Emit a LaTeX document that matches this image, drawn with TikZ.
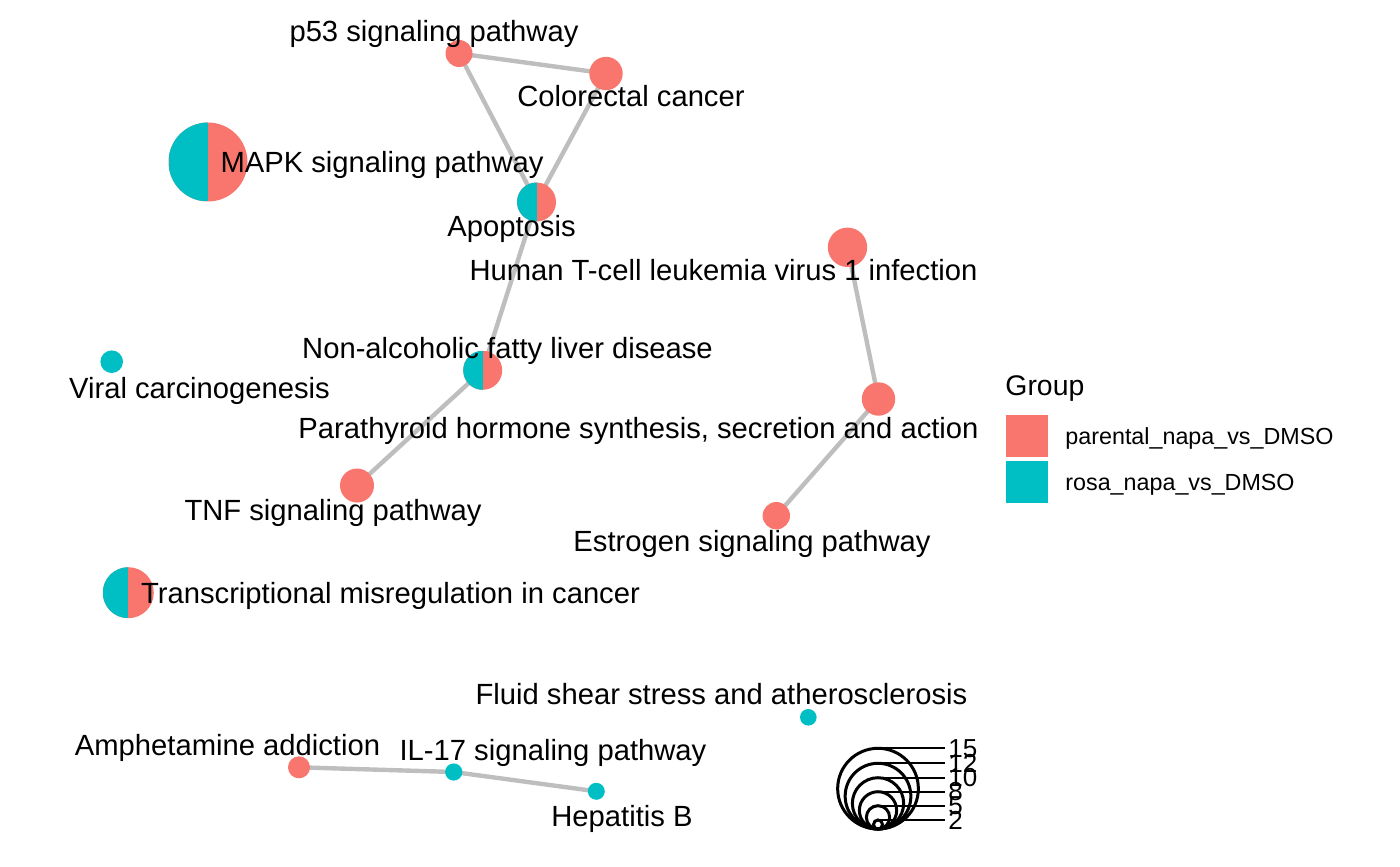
\documentclass[tikz,border=0pt]{standalone}
\usepackage{fontspec}
\setmainfont{Liberation Sans}
\usetikzlibrary{backgrounds}
\definecolor{salmon}{HTML}{F8766D}
\definecolor{tealc}{HTML}{00BFC4}
\definecolor{edgegray}{HTML}{BEBEBE}
\begin{document}
\begin{tikzpicture}[x=0.5pt,y=-0.5pt,
  nd/.style={circle, inner sep=0pt, outer sep=0pt, minimum size=#1pt},
  pn/.style={nd=#1, fill=salmon},
  tn/.style={nd=#1, fill=tealc},
  bn/.style={nd=#1, fill=salmon, path picture={\fill[tealc] (path picture bounding box.south west) rectangle (path picture bounding box.north);}},
  lab/.style={font=\fontsize{14.6}{17}\selectfont, inner sep=0pt, anchor=base},
  link/.style={draw=edgegray, line width=2.2pt},
  sz/.style={circle, draw=black, line width=1.5pt, inner sep=0pt, minimum size=#1pt},
  szlab/.style={font=\fontsize{13}{15}\selectfont, inner sep=0pt, anchor=west, xshift=1.5pt},
  leglab/.style={font=\fontsize{11.65}{13}\selectfont, inner sep=0pt, anchor=base west},
]
\useasboundingbox (0,0) rectangle (1400,866);

% nodes (radius in px)
\node[pn=13.5] (p53) at (459,53.5) {};
\node[pn=16.7] (crc) at (606,73.5) {};
\node[bn=39.5] (mapk) at (208,162) {};
\node[bn=19.5] (apo) at (536.5,202) {};
\node[pn=19.7] (htlv) at (847.5,247.3) {};
\node[tn=11.3] (viral) at (111.7,361.7) {};
\node[bn=19.5] (nafld) at (482.7,370.3) {};
\node[pn=16.7] (pth) at (878.5,399) {};
\node[pn=17] (tnf) at (357,485.5) {};
\node[pn=13.7] (estr) at (776.3,515.7) {};
\node[bn=25.5] (trans) at (128.3,592.7) {};
\node[tn=8.3] (fluid) at (808.3,717.3) {};
\node[pn=11] (amph) at (299,767.3) {};
\node[tn=8.6] (il17) at (453.7,772) {};
\node[tn=8.5] (hepb) at (596.3,791.3) {};

% edges
\begin{scope}[on background layer]
\draw[link] (p53.center) -- (crc.center);
\draw[link] (p53.center) -- (apo.center);
\draw[link] (crc.center) -- (apo.center);
\draw[link] (apo.center) -- (nafld.center);
\draw[link] (nafld.center) -- (tnf.center);
\draw[link] (htlv.center) -- (pth.center);
\draw[link] (pth.center) -- (estr.center);
\draw[link] (amph.center) -- (il17.center);
\draw[link] (il17.center) -- (hepb.center);
\end{scope}

% labels
\node[lab] (lp53) at (434,42) {p53 signaling pathway};
\node[lab] (lcrc) at (631,107) {Colorectal cancer};
\node[lab] (lmapk) at (382,173) {MAPK signaling pathway};
\node[lab] (lapo) at (511.5,236) {Apoptosis};
\node[lab] (lhtlv) at (723.5,280) {Human T-cell leukemia virus 1 infection};
\node[lab] (lnafld) at (507.5,358) {Non-alcoholic fatty liver disease};
\node[lab] (lviral) at (199.5,398) {Viral carcinogenesis};
\node[lab] (lpth) at (638.5,438) {Parathyroid hormone synthesis, secretion and action};
\node[lab] (ltnf) at (333,520) {TNF signaling pathway};
\node[lab] (lestr) at (752,551) {Estrogen signaling pathway};
\node[lab] (ltrans) at (390.5,603) {Transcriptional misregulation in cancer};
\node[lab] (lfluid) at (721.5,704) {Fluid shear stress and atherosclerosis};
\node[lab] (lamph) at (227.5,755) {Amphetamine addiction};
\node[lab] (lil17) at (553,760) {IL-17 signaling pathway};
\node[lab] (lhepb) at (622,826) {Hepatitis B};

% group legend
\node[font=\fontsize{14.2}{17}\selectfont, inner sep=0pt, anchor=base west] (gtitle) at (1005,395) {Group};
\node[fill=salmon, inner sep=0pt, minimum size=21pt, anchor=north west] (gk1) at (1006,415) {};
\node[fill=tealc, inner sep=0pt, minimum size=21pt, anchor=north west] (gk2) at (1006,461) {};
\node[leglab] (gl1) at (1065,444) {parental\_napa\_vs\_DMSO};
\node[leglab] (gl2) at (1065,490) {rosa\_napa\_vs\_DMSO};

% size legend
\node[sz=40.35] (s15) at (878,788.65) {};
\node[sz=32.85] (s12) at (878,796.15) {};
\node[sz=25.65] (s10) at (878,803.35) {};
\node[sz=18.65] (s8) at (878,810.35) {};
\node[sz=11.65] (s5) at (878,817.35) {};
\node[sz=4.5] (s2) at (878,824.5) {};
\coordinate (e15) at (945,748.3);
\coordinate (e12) at (945,763.3);
\coordinate (e10) at (945,777.7);
\coordinate (e8) at (945,791.7);
\coordinate (e5) at (945,805.7);
\coordinate (e2) at (945,820);
\foreach \s in {15,12,10,8,5,2}{
  \draw[line width=1.1pt] (s\s.center |- e\s) -- (e\s);
  \node[szlab] (t\s) at (e\s) {\s};
}
\end{tikzpicture}
\end{document}
